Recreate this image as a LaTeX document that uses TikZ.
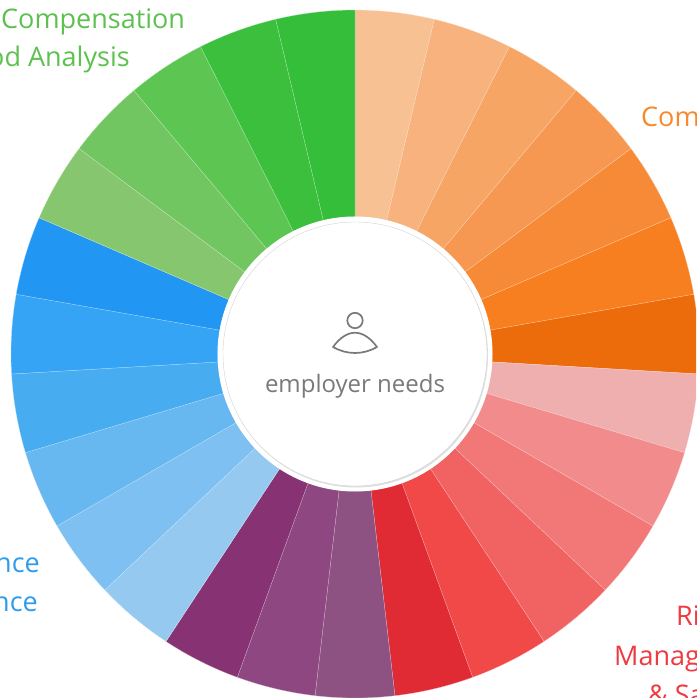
\documentclass[tikz,border=0pt]{standalone}
\usepackage{fontspec}
\setmainfont{Open Sans}
\usetikzlibrary{shadows}

\definecolor{or1}{HTML}{F8C194}
\definecolor{or2}{HTML}{F7B27E}
\definecolor{or3}{HTML}{F7A565}
\definecolor{or4}{HTML}{F69851}
\definecolor{or5}{HTML}{F68A37}
\definecolor{or6}{HTML}{F77F1F}
\definecolor{or7}{HTML}{EC6C0C}
\definecolor{rd1}{HTML}{F0AFAF}
\definecolor{rd2}{HTML}{F28C8C}
\definecolor{rd3}{HTML}{F27878}
\definecolor{rd4}{HTML}{F16262}
\definecolor{rd5}{HTML}{F14848}
\definecolor{rd6}{HTML}{E02B34}
\definecolor{pu1}{HTML}{8E5282}
\definecolor{pu2}{HTML}{8E4780}
\definecolor{pu3}{HTML}{873273}
\definecolor{bl1}{HTML}{95C9F0}
\definecolor{bl2}{HTML}{7DC0F1}
\definecolor{bl3}{HTML}{67B7F0}
\definecolor{bl4}{HTML}{48ACF1}
\definecolor{bl5}{HTML}{35A4F4}
\definecolor{bl6}{HTML}{2196F3}
\definecolor{gr1}{HTML}{86C66E}
\definecolor{gr2}{HTML}{72C662}
\definecolor{gr3}{HTML}{5DC652}
\definecolor{gr4}{HTML}{3BBF3C}
\definecolor{gr5}{HTML}{34BE3A}
\definecolor{txgreen}{HTML}{5DC150}
\definecolor{txorange}{HTML}{F7892B}
\definecolor{txred}{HTML}{EE3A40}
\definecolor{txblue}{HTML}{2E9BEE}
\definecolor{txgray}{HTML}{7A7A7A}

\begin{document}
\begin{tikzpicture}[x=1pt,y=1pt,
    slice/.style={fill=#1, draw=white!60!#1, line width=0.25pt},
    lbl/.style={inner sep=0pt, font=\fontsize{27}{31}\selectfont, text=#1}]
    \useasboundingbox (-355,-344) rectangle (341,354);
    \clip (-355,-344) rectangle (341,354);

    % ring of slices, clockwise from the top
    \foreach \c [count=\i from 0] in {or1,or2,or3,or4,or5,or6,or7,
        rd1,rd2,rd3,rd4,rd5,rd6,pu1,pu2,pu3,
        bl1,bl2,bl3,bl4,bl5,bl6,gr1,gr2,gr3,gr4,gr5} {
      \pgfmathsetmacro\a{90-\i*360/27}
      \pgfmathsetmacro\b{\a-360/27}
      \draw[slice=\c] (\a:344pt) arc[start angle=\a, end angle=\b, radius=344pt]
        -- (\b:137pt) arc[start angle=\b, end angle=\a, radius=137pt] -- cycle;
    }
    \fill[white] (0,0) circle[radius=137.5pt];

    \node[circle, minimum size=264pt, inner sep=0pt, fill=white, draw=gray!35,
      drop shadow={shadow xshift=1pt, shadow yshift=-1.5pt, opacity=0.25}] (hub) at (0,0) {};

    % person icon
    \draw[txgray, line width=1.7pt] (0,33.5) circle[radius=7.7pt];
    \draw[txgray, line width=1.7pt, line join=round] (-22,7) .. controls (-8,26) and (8,26) .. (22,7)
      .. controls (8,-1) and (-8,-1) .. cycle;
    \node[inner sep=0pt, anchor=base, text=txgray, font=\fontsize{24}{28}\selectfont] (needs) at (0,-39) {employer needs};

    \node[lbl=txgreen, anchor=base west] (comp) at (-354,325) {Compensation};
    \node[lbl=txgreen, anchor=base west] (ana) at (-367,287) {od Analysis};
    \node[lbl=txorange, anchor=base west] (com) at (286,227) {Com};
    \node[lbl=txred, anchor=base west] (ri) at (321,-271) {Ri};
    \node[lbl=txred, anchor=base west] (manag) at (259,-311) {Manag};
    \node[lbl=txred, anchor=base west] (sa) at (293,-350) {\& Sa};
    \node[lbl=txblue, anchor=base east] (nce) at (-315,-218) {nce};
    \node[lbl=txblue, anchor=base east] (nceb) at (-317,-257) {nce};
  \end{tikzpicture}
\end{document}
